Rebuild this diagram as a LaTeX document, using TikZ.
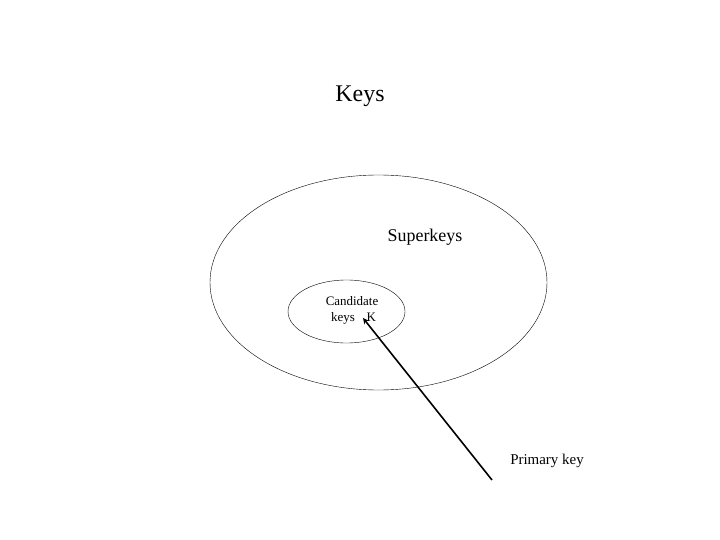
\documentclass[tikz,border=0pt]{standalone}
\usepackage{fontspec}
\setmainfont{Liberation Serif}
\usetikzlibrary{shapes.geometric}
\begin{document}
\begin{tikzpicture}[
        x=1bp, y=-1bp,
        >=stealth,
        keyset/.style={draw, ellipse, inner sep=0pt, thin},
        semithick
        ]
        \useasboundingbox (0,0) rectangle (720,540);
        \node (title) at (360,96) {\fontsize{24}{28}\selectfont Keys};
        \node[keyset, minimum width=337bp, minimum height=215bp] (super) at (378.5,282.5) {};
        \node (superlabel) at (425,237) {\fontsize{18}{21}\selectfont Superkeys};
        \node[keyset, minimum width=117bp, minimum height=63bp] (cand) at (346.5,311.5) {};
        \node[align=center, font=\fontsize{13}{16}\selectfont] (candlabel) at (352,310) {Candidate\\\ keys\hspace{0.9em}K};
        \coordinate (tip) at (363,318);
        \node (primary) at (547,461) {\fontsize{15}{18}\selectfont Primary key};
        \coordinate (tail) at (492,480);
        \draw[->, line width=1.6pt] (tail) -- (tip);
\end{tikzpicture}
\end{document}
